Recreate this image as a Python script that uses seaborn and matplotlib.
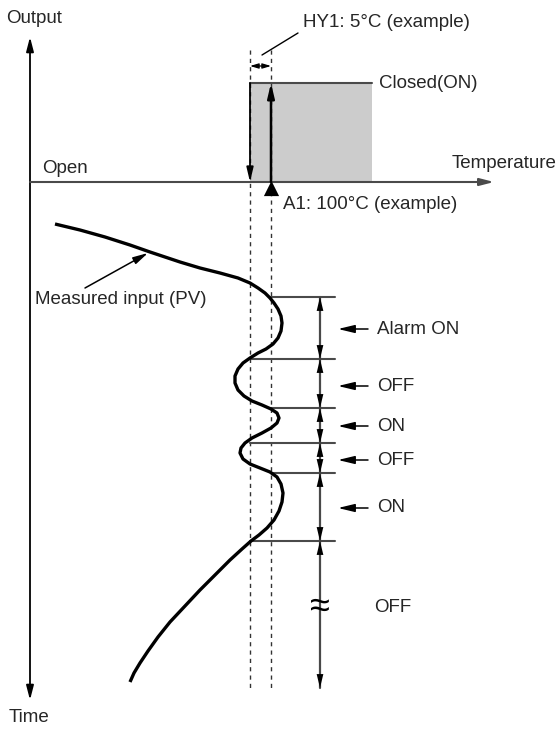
import numpy as np
import pandas as pd
import seaborn as sns
import matplotlib
matplotlib.use("Agg")
import matplotlib.pyplot as plt
from matplotlib.patches import Rectangle

# ---------------- data (pixel-like units) ----------------
pv_x = [55, 80, 105, 130, 150, 165, 180, 200, 220, 238, 250, 258, 265, 270, 274, 278, 281,
        282, 281, 278, 273, 266, 258, 250, 243, 238, 235, 235, 238, 244, 252, 262, 271,
        277, 279, 277, 271, 262, 252, 245, 241, 240, 243, 250, 260, 270, 277, 281, 283,
        282, 279, 274, 267, 259, 251, 242, 230, 215, 200, 185, 170, 158, 148, 140, 134, 130]
pv_y = [224, 230, 237, 245, 252, 257, 262, 268, 273, 278, 283, 288, 293, 298, 303, 309, 316,
        323, 331, 338, 344, 349, 353, 358, 363, 369, 376, 383, 390, 396, 401, 405, 409,
        413, 418, 423, 428, 433, 438, 443, 448, 453, 459, 464, 468, 472, 477, 484, 493,
        502, 511, 520, 528, 535, 541, 549, 560, 575, 590, 606, 622, 637, 651, 663, 673, 682]

set_point_x = 271          # A1: 100 degC
hyst_low_x = 250           # A1 - HY1
closed_level_y = 83
open_level_y = 182
closed_end_x = 372

boundary_y = [297, 359, 408, 443, 473, 541]
boundary_x = [271, 250, 271, 250, 271, 250]
last_end_y = 688
state_labels = ["Alarm ON", "OFF", "ON", "OFF", "ON", "OFF"]
state_label_y = [329, 386, 426, 460, 508, 607]

# ---------------- figure ----------------
sns.set_theme(style="white")
plt.rcParams["font.family"] = ["Liberation Sans", "DejaVu Sans"]

W, H = 560, 729
fig = plt.figure(figsize=(W / 100, H / 100), dpi=100)
ax = fig.add_axes([0, 0, 1, 1])

FS = 13.5
dark = "#4a4a4a"

def arrow(x0, y0, x1, y1, style="-|>", color="black", lw=1.2, hl=0.85, hw=0.2, ms=10, z=5):
    ax.annotate("", xy=(x1, y1), xytext=(x0, y0),
                arrowprops=dict(arrowstyle=f"{style},head_length={hl},head_width={hw}",
                                color=color, lw=lw, shrinkA=0, shrinkB=0,
                                mutation_scale=ms), zorder=z)

# PV curve (seaborn)
df = pd.DataFrame({"x": pv_x, "y": pv_y})
sns.lineplot(data=df, x="x", y="y", sort=False, estimator=None, color="black",
             lw=2.4, ax=ax, zorder=4, solid_joinstyle="round", solid_capstyle="butt")
ax.set_xlim(0, W)
ax.set_ylim(H, 0)
ax.axis("off")

# gray "closed" region
ax.add_patch(Rectangle((hyst_low_x, closed_level_y), closed_end_x - hyst_low_x,
                       open_level_y - closed_level_y, facecolor="#cccccc",
                       edgecolor="none", zorder=1))
ax.plot([hyst_low_x, closed_end_x], [closed_level_y, closed_level_y], color=dark, lw=1.5, zorder=2)

# dashed guide lines
for gx in [hyst_low_x, set_point_x]:
    ax.plot([gx, gx], [50, last_end_y], color="#333333", lw=1.0,
            linestyle=(0, (3, 3)), zorder=2)

# axes arrows
arrow(30, 182, 30, 37, lw=1.3, hw=0.22)
arrow(30, 182, 30, 700, lw=1.3, hw=0.22)
arrow(30, 182, 494, 182, color=dark, lw=1.5, hw=0.22)

# switching arrows
arrow(hyst_low_x, closed_level_y, hyst_low_x, open_level_y, lw=1.3, z=6)
arrow(set_point_x, open_level_y, set_point_x, closed_level_y, lw=1.8, z=6)
ax.scatter([set_point_x], [188], marker="^", s=120, color="black", zorder=7, linewidths=0)

# hysteresis width arrow & leader
arrow(hyst_low_x, 66, set_point_x, 66, style="<|-|>", lw=0.9, hl=0.5, hw=0.15, ms=10)
ax.plot([262, 298], [55, 33], color="black", lw=1.0)

arrow(85, 288, 148, 253, lw=1.1, hl=0.9, hw=0.22)

# state boundaries and interval arrows
for bx, by in zip(boundary_x, boundary_y):
    ax.plot([bx, 335], [by, by], color=dark, lw=1.5, zorder=3)
ends = boundary_y + [last_end_y]
for a, b in zip(ends[:-1], ends[1:]):
    ax.plot([320, 320], [a, b], color=dark, lw=1.6, zorder=4)
    arrow(320, (a + b) / 2, 320, a, color="black", lw=0.01, hl=1.0, hw=0.24)
    arrow(320, (a + b) / 2, 320, b, color="black", lw=0.01, hl=1.0, hw=0.24)
ax.text(320, 607, "≈", fontsize=26, ha="center", va="center", color="black",
        family=["Liberation Sans", "DejaVu Sans"], zorder=6)

# state labels
for i, (lab, ly) in enumerate(zip(state_labels, state_label_y)):
    if i == len(state_labels) - 1:
        ax.text(374, ly, lab, fontsize=FS, va="center", ha="left")
        continue
    arrow(368, ly, 338, ly, lw=1.1, hl=1.0, hw=0.24)
    ax.text(377, ly, lab, fontsize=FS, va="center", ha="left")

# texts
ax.text(6, 18, "Output", fontsize=FS, va="center", ha="left")
ax.text(9, 718, "Time", fontsize=FS, va="center", ha="left")
ax.text(42, 168, "Open", fontsize=FS, va="center", ha="left")
ax.text(452, 163, "Temperature", fontsize=FS, va="center", ha="left")
ax.text(379, 83, "Closed(ON)", fontsize=FS, va="center", ha="left")
ax.text(303, 22, "HY1: 5°C (example)", fontsize=FS, va="center", ha="left")
ax.text(283, 204, "A1: 100°C (example)", fontsize=FS, va="center", ha="left")
ax.text(35, 299, "Measured input (PV)", fontsize=FS, va="center", ha="left")

fig.savefig("out.png", dpi=100)
